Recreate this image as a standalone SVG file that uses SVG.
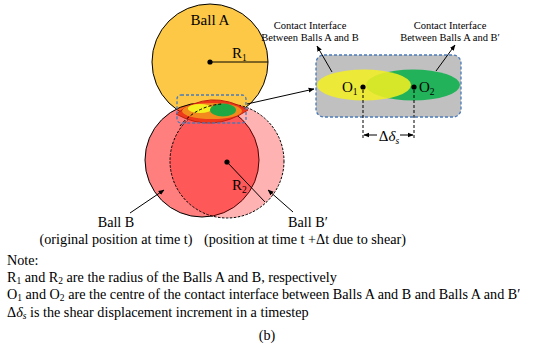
<svg xmlns="http://www.w3.org/2000/svg" width="534" height="347" viewBox="0 0 534 347">
<defs>
<marker id="ah" viewBox="0 0 10 10" refX="9" refY="5" markerWidth="6" markerHeight="6" orient="auto-start-reverse" markerUnits="userSpaceOnUse"><path d="M0,1 L10,5 L0,9 z" fill="#000"/></marker>
<style>
text{font-family:"Liberation Serif","Times New Roman",serif;fill:#000}
.lbl{font-size:15px}
.sm{font-size:10.5px}
.note{font-size:14.2px}
.sub{font-size:9.5px}
.ln{stroke:#000;stroke-width:1;fill:none}
.dash{stroke:#000;stroke-width:1;fill:none;stroke-dasharray:3,2}
.blue{stroke:#4a7ab8;stroke-width:1.3;stroke-dasharray:3,2}
</style>
</defs>
<rect width="534" height="347" fill="#fff"/>
<g id="ballA">
<circle cx="210" cy="62" r="58" fill="#fdc845" stroke="#000" stroke-width="1"/>
</g>
<g id="ballB">
<circle cx="202" cy="160" r="57" fill="#ff0000" fill-opacity="0.5" stroke="#000" stroke-width="1"/>
</g>
<g id="ballBprime">
<circle cx="227" cy="161" r="57" fill="#ff0000" fill-opacity="0.3" stroke="#000" stroke-width="1" stroke-dasharray="2.5,1.5"/>
</g>
<g id="contact-small">
<path d="M176,114 Q210,88 248,110 Q212,134 176,114 Z" fill="#ee3a1a" stroke="#c02010" stroke-width="1"/>
<ellipse cx="212" cy="111" rx="30" ry="8" fill="#f38a1e"/>
<ellipse cx="200" cy="108.5" rx="12" ry="4.5" fill="#f5f020"/>
<ellipse cx="223" cy="110" rx="13" ry="6.5" fill="#20a845"/>
<path d="M180,126 A57,57 0 0 1 222,104" class="dash"/>
<rect x="177" y="95" width="69" height="28" rx="4" fill="none" class="blue"/>
</g>
<g id="inset">
<rect x="316" y="55" width="145" height="62" rx="8" fill="#c0c0c0" class="blue"/>
<ellipse cx="413" cy="85" rx="47" ry="15.5" fill="#21b25a"/>
<ellipse cx="364" cy="85" rx="47" ry="15.5" fill="#f5f020" fill-opacity="0.85"/>
<circle cx="363" cy="87" r="2.6" fill="#000"/>
<circle cx="414" cy="87" r="2.6" fill="#000"/>
<text x="342" y="92" class="lbl">O<tspan class="sub" dy="3">1</tspan></text>
<text x="419" y="92" class="lbl">O<tspan class="sub" dy="3">2</tspan></text>
</g>
<g id="radii">
<line x1="210" y1="62" x2="268" y2="62" class="ln" stroke-width="1.5"/>
<circle cx="210" cy="62" r="2.6" fill="#000"/>
<text x="232" y="58" class="lbl">R<tspan class="sub" dy="3">1</tspan></text>
<line x1="227" y1="162" x2="265" y2="202" class="ln"/>
<circle cx="227" cy="162" r="2.6" fill="#000"/>
<text x="232" y="190" class="lbl">R<tspan class="sub" dy="3">2</tspan></text>
</g>
<g id="connectors">
<line x1="247" y1="104" x2="314" y2="89" class="ln" marker-end="url(#ah)"/>
<line x1="332" y1="72" x2="317" y2="46" class="ln" marker-end="url(#ah)"/>
<line x1="436" y1="71" x2="455" y2="45" class="ln" marker-end="url(#ah)"/>
<line x1="130" y1="213" x2="164" y2="190" class="ln" marker-end="url(#ah)"/>
<line x1="293" y1="212" x2="268" y2="190" class="ln" marker-end="url(#ah)"/>
<line x1="363" y1="90" x2="363" y2="140" class="dash"/>
<line x1="414" y1="90" x2="414" y2="140" class="dash"/>
<line x1="364" y1="135" x2="377" y2="135" class="ln" marker-start="url(#ah)"/>
<line x1="400" y1="135" x2="413" y2="135" class="ln" marker-end="url(#ah)"/>
</g>
<g id="labels">
<text x="210" y="25" class="lbl" text-anchor="middle">Ball A</text>
<text x="310" y="29" class="sm" text-anchor="middle">Contact Interface</text>
<text x="310" y="41" class="sm" text-anchor="middle">Between Balls A and B</text>
<text x="450" y="29" class="sm" text-anchor="middle">Contact Interface</text>
<text x="450" y="41" class="sm" text-anchor="middle">Between Balls A and B′</text>
<text x="389" y="141" class="lbl" text-anchor="middle">Δ<tspan font-style="italic">δ</tspan><tspan font-style="italic" class="sub" dy="3">s</tspan></text>
<text x="116" y="227" class="note" text-anchor="middle">Ball B</text>
<text x="116" y="244" class="note" text-anchor="middle">(original position at time t)</text>
<text x="308" y="227" class="note" text-anchor="middle">Ball B′</text>
<text x="305" y="244" class="note" text-anchor="middle">(position at time t +Δt due to shear)</text>
</g>
<g id="note">
<text x="7" y="265" class="note">Note:</text>
<text x="7" y="282" class="note">R<tspan class="sub" dy="2">1</tspan><tspan dy="-2"> and R</tspan><tspan class="sub" dy="2">2</tspan><tspan dy="-2"> are the radius of the Balls A and B, respectively</tspan></text>
<text x="7" y="299" class="note">O<tspan class="sub" dy="2">1</tspan><tspan dy="-2"> and O</tspan><tspan class="sub" dy="2">2</tspan><tspan dy="-2"> are the centre of the contact interface between Balls A and B and Balls A and B′</tspan></text>
<text x="7" y="317" class="note">Δ<tspan font-style="italic">δ</tspan><tspan font-style="italic" class="sub" dy="2">s</tspan><tspan dy="-2"> is the shear displacement increment in a timestep</tspan></text>
<text x="267" y="340" class="note" text-anchor="middle">(b)</text>
</g>
</svg>
